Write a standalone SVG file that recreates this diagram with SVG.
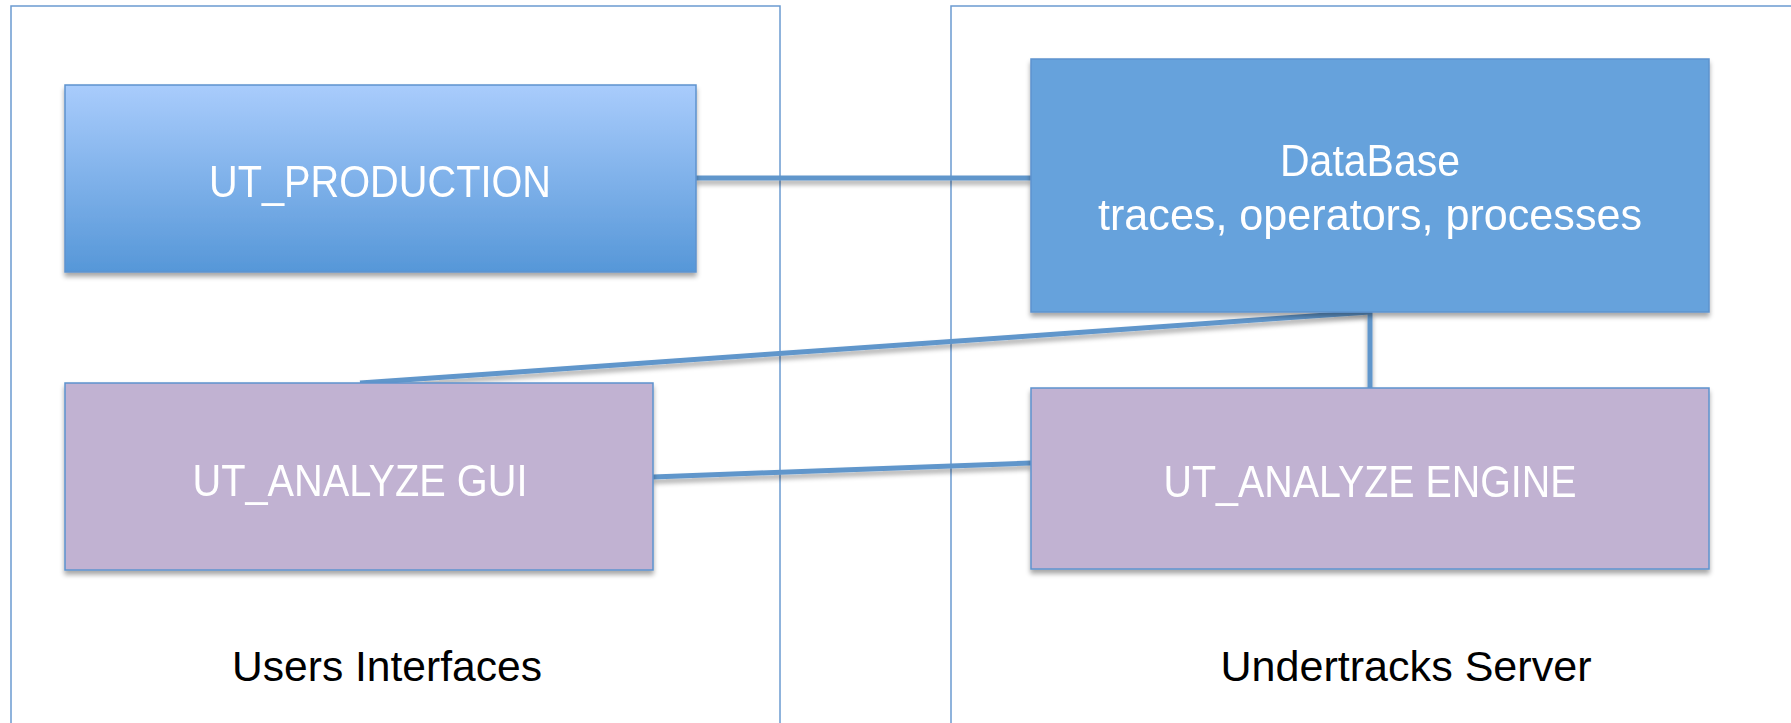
<svg xmlns="http://www.w3.org/2000/svg" width="1791" height="723" viewBox="0 0 1791 723">
<style>
.panel{fill:none;stroke:#6B9BD1;stroke-width:1.5}
.box{stroke:#5E93CE;stroke-width:1.5}
.purple{fill:#C1B2D2}
.lbl{font-family:"Liberation Sans",Arial,sans-serif;font-size:44px;fill:#FFFFFF;text-anchor:middle}
.cap{font-family:"Liberation Sans",Arial,sans-serif;font-size:42px;fill:#000000;text-anchor:middle}
.conn{stroke:#6096CB;stroke-width:5;fill:none;stroke-linecap:butt}
</style>
<defs>
<linearGradient id="gProd" x1="0" y1="0" x2="0" y2="1">
<stop offset="0" stop-color="#A9CCFC"/>
<stop offset="1" stop-color="#5697D8"/>
</linearGradient>
<filter id="sh" x="-5%" y="-5%" width="110%" height="120%">
<feGaussianBlur in="SourceAlpha" stdDeviation="2.5"/>
<feOffset dx="0" dy="4" result="b"/>
<feComponentTransfer><feFuncA type="linear" slope="0.35"/></feComponentTransfer>
<feMerge><feMergeNode/><feMergeNode in="SourceGraphic"/></feMerge>
</filter>
</defs>
<rect width="1791" height="723" fill="#FFFFFF"/>
<g id="panel-users">
<rect class="panel" x="11" y="6" width="769" height="730"/>
<text class="cap" x="387" y="681" textLength="310" lengthAdjust="spacingAndGlyphs">Users Interfaces</text>
</g>
<g id="panel-server">
<rect class="panel" x="951" y="6" width="900" height="730"/>
<text class="cap" x="1406" y="681" textLength="371" lengthAdjust="spacingAndGlyphs">Undertracks Server</text>
</g>
<g id="connectors" filter="url(#sh)">
<line class="conn" x1="696" y1="178" x2="1031" y2="178"/>
<line class="conn" x1="360" y1="383" x2="1370" y2="312"/>
<line class="conn" x1="1370" y1="312" x2="1370" y2="388"/>
<line class="conn" x1="653" y1="477" x2="1031" y2="463"/>
</g>
<g id="node-production" filter="url(#sh)">
<rect class="box" x="65" y="85" width="631" height="187" fill="url(#gProd)"/>
<text class="lbl" x="380" y="197" textLength="342" lengthAdjust="spacingAndGlyphs">UT_PRODUCTION</text>
</g>
<g id="node-database" filter="url(#sh)">
<rect class="box" x="1031" y="59" width="678" height="253" fill="#66A2DC"/>
<text class="lbl" x="1370" y="176" textLength="180" lengthAdjust="spacingAndGlyphs">DataBase</text>
<text class="lbl" x="1370" y="230" textLength="544" lengthAdjust="spacingAndGlyphs">traces, operators, processes</text>
</g>
<g id="node-gui" filter="url(#sh)">
<rect class="box purple" x="65" y="383" width="588" height="187"/>
<text class="lbl" x="360" y="496" textLength="335" lengthAdjust="spacingAndGlyphs">UT_ANALYZE GUI</text>
</g>
<g id="node-engine" filter="url(#sh)">
<rect class="box purple" x="1031" y="388" width="678" height="181"/>
<text class="lbl" x="1370" y="497" textLength="413" lengthAdjust="spacingAndGlyphs">UT_ANALYZE ENGINE</text>
</g>
</svg>
